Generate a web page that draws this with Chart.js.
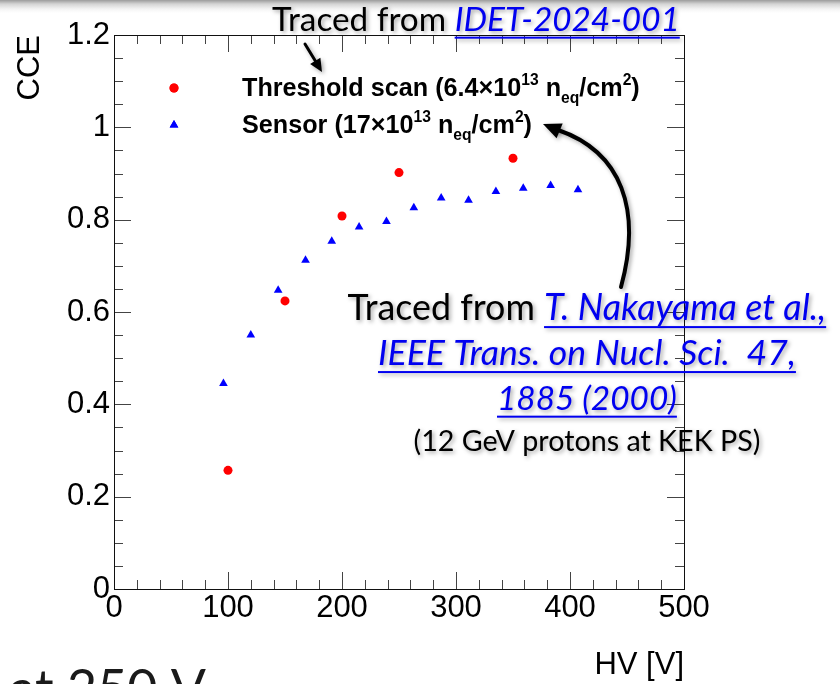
<!DOCTYPE html>
<html>
<head>
<meta charset="utf-8">
<script src="https://cdn.jsdelivr.net/npm/chart.js@4.4.1/dist/chart.umd.min.js"></script>
<style>
html, body { margin: 0; padding: 0; }
body {
    width: 840px; height: 684px; overflow: hidden;
    background: linear-gradient(to bottom, #9c9c9c 0px, #d4d4d4 4px, #f4f4f4 9px, #ffffff 13px);
}
#cceChart { display: block; }
</style>
</head>
<body>
<canvas id="cceChart" width="840" height="684"></canvas>
<script>
// threshold scan points (red circles)
const scanHV = [100, 150, 200, 250, 350];
const scanCCE = [0.257, 0.624, 0.808, 0.902, 0.933];

// sensor points traced from Nakayama et al. (blue triangles)
const sensorHV = [96, 120, 144, 168, 191, 215, 239, 263, 287, 311, 335, 359, 383, 407];
const sensorCCE = [0.445, 0.550, 0.647, 0.712, 0.753, 0.784, 0.796, 0.826, 0.847, 0.842, 0.861, 0.868, 0.874, 0.865];

const xTickLabels = ['0', '100', '200', '300', '400', '500'];
const yTickLabels = ['0', '0.2', '0.4', '0.6', '0.8', '1', '1.2'];

const AXIS_FONT = "'Liberation Sans', Arial, sans-serif"
const AXIS_SIZE = 31
const SLIDE_FONT = "Lato, 'Open Sans', sans-serif"
const LINK_BLUE = '#0000f0';

function fontOf(r, size) {
    return (r.i ? 'italic ' : '') + (r.b ? 'bold ' : '') + (size * (r.s || 1)).toFixed(2) + 'px ' + r.f
}

function runsWidth(ctx, runs, size) {
    var w = 0
    for (const r of runs) {
        ctx.font = fontOf(r, size)
        w += ctx.measureText(r.t).width
    }
    return w
}

function fitSize(ctx, runs, target) {
    return 100 * target / runsWidth(ctx, runs, 100)
}

function drawRuns(ctx, runs, x, y, size) {
    for (const r of runs) {
        ctx.font = fontOf(r, size)
        ctx.fillStyle = r.c || '#000'
        ctx.fillText(r.t, x, y + (r.dy || 0) * size)
        const w = ctx.measureText(r.t).width
        if (r.u) {
            ctx.fillRect(x, y + 0.17 * size, w, 2)
        }
        x += w
    }
    return x
}

function arrowHead(ctx, tipX, tipY, fromX, fromY, len, half) {
    const a = Math.atan2(tipY - fromY, tipX - fromX)
    const bx = tipX - len * Math.cos(a), by = tipY - len * Math.sin(a)
    ctx.beginPath()
    ctx.moveTo(tipX, tipY)
    ctx.lineTo(bx + half * Math.sin(a), by - half * Math.cos(a))
    ctx.lineTo(bx - half * Math.sin(a), by + half * Math.cos(a))
    ctx.closePath()
    ctx.fill()
}

// ROOT style frame: box with inward major / minor ticks on all four sides
const rootFrame = {
    id: 'rootFrame',
    afterDatasetsDraw(chart) {
        const {ctx, chartArea: a, scales: {x, y}} = chart
        ctx.save()
        ctx.strokeStyle = '#444'
        ctx.lineWidth = 1
        ctx.beginPath()
        for (var v = 0; v <= 500; v += 20) {
            const px = Math.round(x.getPixelForValue(v)) + 0.5
            const len = v % 100 === 0 ? 17 : 9
            ctx.moveTo(px, a.bottom); ctx.lineTo(px, a.bottom - len)
            ctx.moveTo(px, a.top); ctx.lineTo(px, a.top + len)
        }
        for (var i = 0; i <= 24; i++) {
            const py = Math.round(y.getPixelForValue(i * 0.05)) + 0.5
            const len = i % 4 === 0 ? 17 : 9
            ctx.moveTo(a.left, py); ctx.lineTo(a.left + len, py)
            ctx.moveTo(a.right, py); ctx.lineTo(a.right - len, py)
        }
        ctx.stroke()
        ctx.strokeStyle = '#111'
        ctx.strokeRect(Math.round(a.left) + 0.5, Math.round(a.top) + 0.5,
            Math.round(a.right - a.left), Math.round(a.bottom - a.top))
        ctx.restore()
    }
}

// legend with superscripts and the slide annotations on top of the plot
const overlay = {
    id: 'overlay',
    afterDraw(chart) {
        const ctx = chart.ctx
        ctx.save()
        ctx.textBaseline = 'alphabetic'
        ctx.textAlign = 'left'

        // legend
        const L = AXIS_FONT
        const leg1 = [
            {t: 'Threshold scan (6.4\u00d710', f: L, b: 1},
            {t: '13', f: L, b: 1, s: 0.62, dy: -0.45},
            {t: ' n', f: L, b: 1},
            {t: 'eq', f: L, b: 1, s: 0.62, dy: 0.28},
            {t: '/cm', f: L, b: 1},
            {t: '2', f: L, b: 1, s: 0.62, dy: -0.45},
            {t: ')', f: L, b: 1}
        ]
        const leg2 = [
            {t: 'Sensor (17\u00d710', f: L, b: 1},
            {t: '13', f: L, b: 1, s: 0.62, dy: -0.45},
            {t: ' n', f: L, b: 1},
            {t: 'eq', f: L, b: 1, s: 0.62, dy: 0.28},
            {t: '/cm', f: L, b: 1},
            {t: '2', f: L, b: 1, s: 0.62, dy: -0.45},
            {t: ')', f: L, b: 1}
        ]
        const legSize = fitSize(ctx, leg1, 398)
        drawRuns(ctx, leg1, 242, 96, legSize)
        drawRuns(ctx, leg2, 242, 133, legSize)
        ctx.fillStyle = '#ff0000'
        Chart.helpers.drawPoint(ctx, {pointStyle: 'circle', radius: 4.5, borderWidth: 0}, 174, 88)
        ctx.fill()
        ctx.fillStyle = '#0000ff'
        Chart.helpers.drawPoint(ctx, {pointStyle: 'triangle', radius: 5, borderWidth: 0}, 174, 125)
        ctx.fill()

        // slide annotations with soft shadow
        ctx.shadowColor = 'rgba(0,0,0,0.35)'
        ctx.shadowBlur = 4
        ctx.shadowOffsetX = 2
        ctx.shadowOffsetY = 2
        const S = SLIDE_FONT
        const top = [
            {t: 'Traced from ', f: S},
            {t: 'IDET-2024-001', f: S, i: 1, c: LINK_BLUE, u: 1}
        ]
        drawRuns(ctx, top, 272, 31, fitSize(ctx, top, 408))

        const lines = [
            {runs: [{t: 'Traced from ', f: S}, {t: 'T. Nakayama et al.,', f: S, i: 1, c: LINK_BLUE, u: 1}], w: 479, y: 320},
            {runs: [{t: 'IEEE Trans. on Nucl. Sci.  47,', f: S, i: 1, c: LINK_BLUE, u: 1}], w: 418, y: 365},
            {runs: [{t: '1885 (2000)', f: S, i: 1, c: LINK_BLUE, u: 1}], w: 180, y: 410},
            {runs: [{t: '(12 GeV protons at KEK PS)', f: S}], w: 347, y: 451}
        ]
        for (const ln of lines) {
            drawRuns(ctx, ln.runs, 587 - ln.w / 2, ln.y, fitSize(ctx, ln.runs, ln.w))
        }

        // arrows
        ctx.fillStyle = '#000'
        ctx.strokeStyle = '#000'
        ctx.lineCap = 'round'
        ctx.lineWidth = 3
        ctx.beginPath()
        ctx.moveTo(305, 44)
        ctx.lineTo(316, 62)
        ctx.stroke()
        arrowHead(ctx, 322, 72, 305, 44, 13, 6)

        ctx.lineWidth = 4
        ctx.beginPath()
        ctx.moveTo(621, 287)
        ctx.bezierCurveTo(642, 210, 622, 152, 558, 130)
        ctx.stroke()
        arrowHead(ctx, 543, 124, 560, 131, 18, 8)

        // cut-off slide text below the figure
        ctx.shadowColor = 'rgba(0,0,0,0)'
        const big = 52
        ctx.font = big + 'px ' + S
        ctx.fillStyle = '#1a1a1a'
        const x0 = 67 - ctx.measureText('at ').width
        ctx.fillText('at 250 V', x0, 670 + big * 0.72)
        ctx.restore()
    }
}

new Chart(document.getElementById('cceChart'), {
    type: 'scatter',
    data: {
        datasets: [
            {
                label: 'Threshold scan',
                data: scanHV.map((v, i) => ({x: v, y: scanCCE[i]})),
                pointStyle: 'circle',
                pointRadius: 4.5,
                pointBorderWidth: 0,
                backgroundColor: '#ff0000',
                borderColor: '#ff0000'
            },
            {
                label: 'Sensor',
                data: sensorHV.map((v, i) => ({x: v, y: sensorCCE[i]})),
                pointStyle: 'triangle',
                pointRadius: 5,
                pointBorderWidth: 0,
                backgroundColor: '#0000ff',
                borderColor: '#0000ff'
            }
        ]
    },
    options: {
        responsive: false,
        animation: false,
        devicePixelRatio: 1,
        layout: {padding: {top: 35, right: 156, left: 0, bottom: 0}},
        plugins: {legend: {display: false}, tooltip: {enabled: false}},
        scales: {
            x: {
                type: 'linear',
                min: 0, max: 500,
                grid: {display: false, drawTicks: false},
                border: {display: false},
                ticks: {
                    stepSize: 100,
                    padding: 1,
                    color: '#000',
                    maxRotation: 0,
                    font: {family: AXIS_FONT, size: AXIS_SIZE},
                    callback: (v) => xTickLabels[Math.round(v / 100)]
                },
                title: {
                    display: true, text: 'HV [V]', align: 'end', color: '#000',
                    font: {family: AXIS_FONT, size: AXIS_SIZE}, padding: {top: 0, bottom: 0}
                },
                afterFit: (scale) => { scale.height = 95 }
            },
            y: {
                type: 'linear',
                min: 0, max: 1.2,
                grid: {display: false, drawTicks: false},
                border: {display: false},
                ticks: {
                    stepSize: 0.2,
                    padding: 4,
                    color: '#000',
                    font: {family: AXIS_FONT, size: AXIS_SIZE},
                    callback: (v) => yTickLabels[Math.round(v / 0.2)]
                },
                title: {
                    display: true, text: 'CCE', align: 'end', color: '#000',
                    font: {family: AXIS_FONT, size: AXIS_SIZE}, padding: {top: 12, bottom: 0}
                },
                afterFit: (scale) => { scale.width = 114 }
            }
        }
    },
    plugins: [rootFrame, overlay]
});
</script>
</body>
</html>
